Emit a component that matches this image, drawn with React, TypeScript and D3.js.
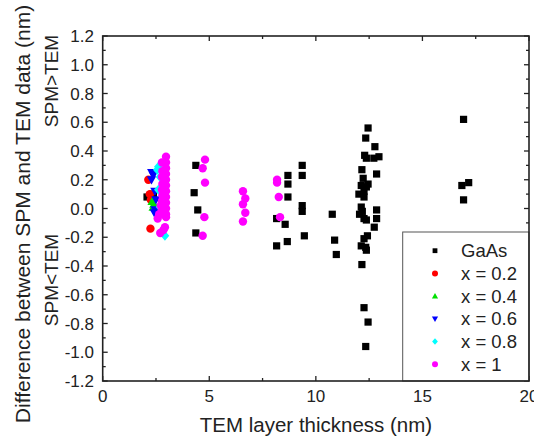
import React from "react";
import * as d3 from "d3";

// TEM layer thickness (nm) and SPM - TEM difference (nm)
const gaasX = [2.08, 2.38, 4.37, 4.29, 4.46, 4.37, 8.69, 8.69, 8.69, 8.16, 8.56, 8.66, 8.16, 9.36, 9.36, 9.36, 9.36, 9.46, 10.77, 10.88, 10.96,
  12.45, 12.34, 12.29, 12.37, 12.77, 12.72, 12.96, 12.85, 12.16, 12.22, 12.13, 12.37, 12.45, 12.26, 12.02, 12.26, 12.13, 12.05, 12.18, 12.26, 12.37,
  12.85, 12.85, 12.74, 12.42, 12.26, 12.13, 12.34, 12.37, 12.16, 12.26, 12.45, 12.34, 16.93, 16.85, 17.17, 16.93];
const gaasY = [0.08, 0.10, 0.30, 0.11, -0.01, -0.17, 0.23, 0.17, 0.08, -0.07, -0.11, -0.23, -0.26, 0.30, 0.23, 0.02, -0.02, -0.19, -0.04, -0.22, -0.32,
  0.56, 0.49, 0.37, 0.35, 0.43, 0.35, 0.36, 0.24, 0.27, 0.21, 0.16, 0.15, 0.17, 0.12, 0.10, 0.08, 0.01, -0.04, -0.02, -0.07, -0.08,
  -0.01, -0.07, -0.13, -0.19, -0.21, -0.26, -0.27, -0.29, -0.39, -0.69, -0.79, -0.96, 0.62, 0.16, 0.18, 0.06];

const x02X = [2.14, 2.24, 2.21, 2.26];
const x02Y = [0.20, -0.14, 0.10, 0.06];

const x04X = [2.32, 2.37, 2.40];
const x04Y = [0.05, 0.01, 0.03];

const x06X = [2.37, 2.29, 2.45, 2.5, 2.45, 2.53, 2.30, 2.42];
const x06Y = [0.23, 0.20, 0.12, 0.06, -0.01, -0.05, 0.25, -0.03];

const x08X = [2.56, 2.69, 2.61, 2.69, 2.92, 2.61];
const x08Y = [0.27, 0.22, 0.13, 0.01, -0.19, 0.29];

const x10X = [2.97, 2.97, 2.97, 2.97, 2.97, 2.97, 2.97, 2.97, 2.97, 2.97, 2.97, 2.97,
  2.78, 2.80, 2.78, 2.80, 2.78, 2.80, 2.78, 2.72, 2.78, 2.65, 2.58, 2.85, 2.70, 2.92,
  4.8, 4.69, 4.8, 4.77, 4.69, 6.58, 6.69, 6.58, 6.69, 6.58, 8.18, 8.18, 8.26, 8.32];
const x10Y = [0.36, 0.32, 0.28, 0.24, 0.20, 0.16, 0.12, 0.08, 0.04, 0.00, -0.04, -0.06,
  0.32, 0.26, 0.22, 0.17, 0.13, 0.09, 0.05, 0.02, -0.01, -0.04, -0.07, -0.15, -0.17, -0.13,
  0.34, 0.28, 0.18, -0.06, -0.19, 0.12, 0.07, 0.03, -0.03, -0.09, 0.20, 0.18, 0.08, -0.06];

const xTicks = [0, 5, 10, 15, 20];
const yTicks = [1.2, 1.0, 0.8, 0.6, 0.4, 0.2, 0.0, -0.2, -0.4, -0.6, -0.8, -1.0, -1.2];

const legendLabels = ["GaAs", "x = 0.2", "x = 0.4", "x = 0.6", "x = 0.8", "x = 1"];

const W = 534, H = 439;
const left = 102.7, right = 529, top = 36, bottom = 381;

const fmt = (v: number) => (Math.abs(v) < 1e-9 ? "0.0" : v.toFixed(1));

function Marker({ kind, color, size }: { kind: string; color: string; size: number }) {
  const s = size;
  if (kind === "square") return <rect x={-s / 2} y={-s / 2} width={s} height={s} fill={color} />;
  if (kind === "circle") return <circle r={s / 2 + 0.6} fill={color} />;
  if (kind === "up") {
    const p = d3.path();
    p.moveTo(0, -s * 0.65); p.lineTo(s * 0.65, s * 0.5); p.lineTo(-s * 0.65, s * 0.5); p.closePath();
    return <path d={p.toString()} fill={color} />;
  }
  if (kind === "down") {
    const p = d3.path();
    p.moveTo(0, s * 0.65); p.lineTo(s * 0.65, -s * 0.5); p.lineTo(-s * 0.65, -s * 0.5); p.closePath();
    return <path d={p.toString()} fill={color} />;
  }
  const p = d3.path();
  p.moveTo(0, -s * 0.7); p.lineTo(s * 0.6, 0); p.lineTo(0, s * 0.7); p.lineTo(-s * 0.6, 0); p.closePath();
  return <path d={p.toString()} fill={color} />;
}

export default function App() {
  const x = d3.scaleLinear().domain([0, 20]).range([left, right]);
  const y = d3.scaleLinear().domain([-1.2, 1.2]).range([bottom, top]);

  const series = [
    { xs: gaasX, ys: gaasY, kind: "square", color: "#000000" },
    { xs: x02X, ys: x02Y, kind: "circle", color: "#ff0000" },
    { xs: x04X, ys: x04Y, kind: "up", color: "#00e000" },
    { xs: x06X, ys: x06Y, kind: "down", color: "#0000ff" },
    { xs: x08X, ys: x08Y, kind: "diamond", color: "#00ffff" },
    { xs: x10X, ys: x10Y, kind: "circle", color: "#ff00ff" },
  ];

  const xMinor = d3.range(0, 20.01, 2.5);
  const yMinor = d3.range(-1.2, 1.201, 0.1);

  const lg = { x: 402.7, y: 232, rowY: 250.7, dy: 22.7 };

  return (
    <svg width={W} height={H} style={{ position: "absolute", left: 0, top: 0, background: "#fff" }}
      fontFamily="Arial, 'Liberation Sans', sans-serif">
      <rect width={W} height={H} fill="#fff" />
      {/* ticks, inward on all four sides */}
      <g stroke="#222" strokeWidth={1.3}>
        {xMinor.map((v, i) => {
          const len = i % 2 === 0 ? 5 : 3;
          return (
            <g key={"xt" + i}>
              <line x1={x(v)} x2={x(v)} y1={bottom} y2={bottom - len} />
              <line x1={x(v)} x2={x(v)} y1={top} y2={top + len} />
            </g>
          );
        })}
        {yMinor.map((v, i) => {
          const len = i % 2 === 0 ? 5 : 3;
          return (
            <g key={"yt" + i}>
              <line x1={left} x2={left + len} y1={y(v)} y2={y(v)} />
              <line x1={right} x2={right - len} y1={y(v)} y2={y(v)} />
            </g>
          );
        })}
      </g>
      {/* data */}
      {series.map((s, si) => (
        <g key={si}>
          {s.xs.map((xv, i) => (
            <g key={i} transform={`translate(${x(xv)},${y(s.ys[i])})`}>
              <Marker kind={s.kind} color={s.color} size={7.2} />
            </g>
          ))}
        </g>
      ))}
      {/* legend */}
      <rect x={lg.x} y={lg.y} width={right - lg.x} height={bottom - lg.y} fill="#fff" stroke="#555" strokeWidth={1} />
      {series.map((s, i) => (
        <g key={"lg" + i}>
          <g transform={`translate(435,${lg.rowY + i * lg.dy})`}>
            <Marker kind={s.kind} color={s.color} size={4.8} />
          </g>
          <text x={461} y={lg.rowY + i * lg.dy + 6.5} fontSize={18.5} fill="#222">{legendLabels[i]}</text>
        </g>
      ))}
      {/* frame */}
      <rect x={left} y={top} width={right - left} height={bottom - top} fill="none" stroke="#222" strokeWidth={1.6} />
      {/* tick labels */}
      {xTicks.map((v) => (
        <text key={"xl" + v} x={x(v)} y={402} textAnchor="middle" fontSize={17} fill="#222">{v}</text>
      ))}
      {yTicks.map((v) => (
        <text key={"yl" + v} x={94} y={y(v) + 6} textAnchor="end" fontSize={17} fill="#222">{fmt(v)}</text>
      ))}
      {/* titles */}
      <text x={316} y={432} textAnchor="middle" fontSize={20.5} fill="#222">TEM layer thickness (nm)</text>
      <text transform="translate(29.5,214) rotate(-90)" textAnchor="middle" fontSize={21} fill="#222">
        Difference between SPM and TEM data (nm)
      </text>
      <text transform="translate(58,81) rotate(-90)" textAnchor="middle" fontSize={19} fill="#222">SPM&gt;TEM</text>
      <text transform="translate(58,280) rotate(-90)" textAnchor="middle" fontSize={19} fill="#222">SPM&lt;TEM</text>
    </svg>
  );
}
